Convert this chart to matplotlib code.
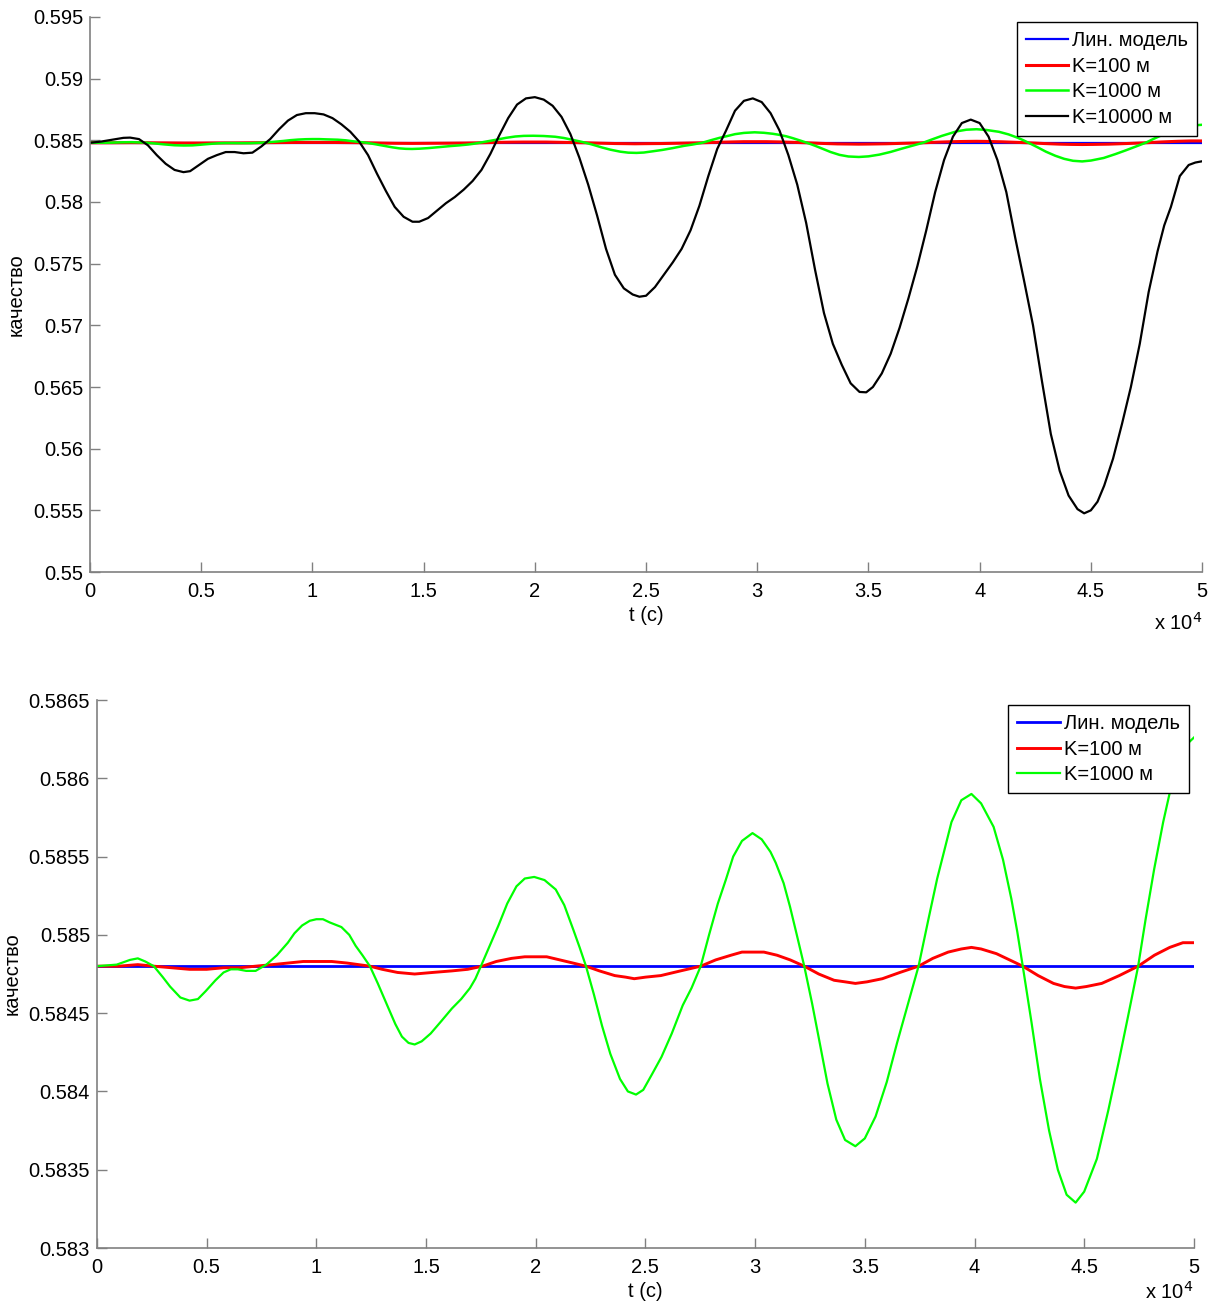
import matplotlib
matplotlib.use("Agg")
import matplotlib.pyplot as plt
import numpy as np
from matplotlib.ticker import FuncFormatter

plt.rcParams['font.family'] = ['Liberation Sans', 'DejaVu Sans']

# линейная модель (константа)
t_lin = [0, 50000]
q_lin = [0.5848, 0.5848]

# K=100 м
t_k100 = [0, 1000, 1860, 2590, 3400, 4220, 5000, 5770, 6500, 7230, 8000, 8700,
          9400, 10000, 10700, 11400, 12440, 13000, 13700, 14480, 15300, 16180,
          16900, 17570, 18200, 18900, 19500, 19930, 20500, 21100, 21700, 22290,
          22900, 23600, 24100, 24490, 25000, 25700, 26600, 27520, 28200, 28900,
          29400, 29880, 30400, 31000, 31600, 32240, 32900, 33600, 34100, 34570,
          35100, 35800, 36600, 37450, 38100, 38800, 39400, 39860, 40300, 41000,
          41600, 42200, 42900, 43600, 44100, 44610, 45100, 45800, 46600, 47460,
          48200, 48900, 49500, 50000]
q_k100 = [0.58480, 0.58480, 0.58481, 0.58480, 0.58479, 0.58478, 0.58478, 0.58479,
          0.58479, 0.58480, 0.58481, 0.58482, 0.58483, 0.58483, 0.58483, 0.58482,
          0.58480, 0.58478, 0.58476, 0.58475, 0.58476, 0.58477, 0.58478, 0.58480,
          0.58483, 0.58485, 0.58486, 0.58486, 0.58486, 0.58484, 0.58482, 0.58480,
          0.58477, 0.58474, 0.58473, 0.58472, 0.58473, 0.58474, 0.58477, 0.58480,
          0.58484, 0.58487, 0.58489, 0.58489, 0.58489, 0.58487, 0.58484, 0.58480,
          0.58475, 0.58471, 0.58470, 0.58469, 0.58470, 0.58472, 0.58476, 0.58480,
          0.58485, 0.58489, 0.58491, 0.58492, 0.58491, 0.58488, 0.58484, 0.58480,
          0.58474, 0.58469, 0.58467, 0.58466, 0.58467, 0.58469, 0.58474, 0.58480,
          0.58487, 0.58492, 0.58495, 0.58495]

# K=1000 м
t_k1000 = [0, 900, 1500, 1860, 2200, 2590, 3000, 3330, 3800, 4220, 4600, 4950,
           5400, 5770, 6100, 6420, 6800, 7230, 7720, 8200, 8700, 9000, 9350, 9700,
           10000, 10300, 10600, 11140, 11500, 11790, 12100, 12440, 12800, 13260,
           13600, 13900, 14200, 14480, 14800, 15210, 15700, 16180, 16600, 17000,
           17250, 17500, 17900, 18300, 18700, 19120, 19500, 19930, 20400, 20910,
           21300, 21720, 22000, 22290, 22650, 23020, 23400, 23840, 24200, 24570,
           24900, 25300, 25730, 26200, 26700, 27100, 27520, 27900, 28300, 28660,
           29000, 29400, 29880, 30300, 30700, 30940, 31300, 31590, 31900, 32240,
           32600, 32890, 33300, 33700, 34100, 34570, 35000, 35490, 36000, 36470,
           36950, 37450, 37900, 38300, 38590, 38950, 39400, 39860, 40300, 40870,
           41300, 41680, 41950, 42200, 42600, 42980, 43400, 43800, 44200, 44610,
           45000, 45580, 46100, 46560, 47000, 47460, 47800, 48190, 48600, 49000,
           49400, 49700, 50000]
q_k1000 = [0.58480, 0.58481, 0.58484, 0.58485, 0.58483, 0.58480, 0.58473, 0.58467,
           0.58460, 0.58458, 0.58459, 0.58464, 0.58471, 0.58476, 0.58478, 0.58478,
           0.58477, 0.58477, 0.58481, 0.58487, 0.58495, 0.58501, 0.58506, 0.58509,
           0.58510, 0.58510, 0.58508, 0.58505, 0.58500, 0.58493, 0.58487, 0.58480,
           0.58469, 0.58454, 0.58443, 0.58435, 0.58431, 0.58430, 0.58432, 0.58437,
           0.58445, 0.58453, 0.58459, 0.58466, 0.58472, 0.58480, 0.58493, 0.58506,
           0.58520, 0.58531, 0.58536, 0.58537, 0.58535, 0.58529, 0.58519, 0.58503,
           0.58492, 0.58480, 0.58462, 0.58442, 0.58424, 0.58408, 0.58400, 0.58398,
           0.58401, 0.58411, 0.58422, 0.58437, 0.58455, 0.58466, 0.58480, 0.58500,
           0.58520, 0.58535, 0.58550, 0.58560, 0.58565, 0.58561, 0.58553, 0.58546,
           0.58533, 0.58518, 0.58500, 0.58480, 0.58456, 0.58435, 0.58405, 0.58382,
           0.58369, 0.58365, 0.58370, 0.58384, 0.58406, 0.58431, 0.58455, 0.58480,
           0.58510, 0.58536, 0.58552, 0.58572, 0.58586, 0.58590, 0.58584, 0.58569,
           0.58548, 0.58523, 0.58502, 0.58480, 0.58444, 0.58408, 0.58375, 0.58350,
           0.58334, 0.58329, 0.58336, 0.58357, 0.58388, 0.58418, 0.58448, 0.58480,
           0.58510, 0.58542, 0.58572, 0.58597, 0.58614, 0.58622, 0.58626]

# K=10000 м
t_k10000 = [0, 500, 1000, 1500, 1800, 2200, 2600, 3000, 3400, 3800, 4200, 4500,
            4900, 5300, 5700, 6100, 6500, 6900, 7300, 7700, 8100, 8500, 8900, 9300,
            9700, 10100, 10500, 10900, 11300, 11700, 12100, 12500, 12900, 13300,
            13700, 14100, 14500, 14800, 15200, 15600, 16000, 16400, 16800, 17200,
            17600, 18000, 18400, 18800, 19200, 19600, 20000, 20400, 20800, 21200,
            21600, 22000, 22400, 22800, 23200, 23600, 24000, 24400, 24700, 25000,
            25400, 25800, 26200, 26600, 27000, 27400, 27800, 28200, 28600, 29000,
            29400, 29800, 30200, 30600, 31000, 31400, 31800, 32200, 32600, 33000,
            33400, 33800, 34200, 34600, 34900, 35200, 35600, 36000, 36400, 36800,
            37200, 37600, 38000, 38400, 38800, 39200, 39600, 40000, 40400, 40800,
            41200, 41600, 42000, 42400, 42800, 43200, 43600, 44000, 44400, 44700,
            45000, 45300, 45600, 46000, 46400, 46800, 47200, 47600, 48000, 48300,
            48600, 49000, 49400, 49700, 50000]
q_k10000 = [0.5848, 0.5849, 0.58505, 0.5852, 0.58522, 0.5851, 0.5846, 0.5838,
            0.5831, 0.5826, 0.58242, 0.5825, 0.5830, 0.5835, 0.5838, 0.58405,
            0.58405, 0.58395, 0.5840, 0.5845, 0.5851, 0.5859, 0.5866, 0.58705,
            0.5872, 0.5872, 0.5871, 0.5868, 0.5863, 0.5857, 0.5849, 0.5838,
            0.5823, 0.5809, 0.5796, 0.5788, 0.5784, 0.5784, 0.5787, 0.5793,
            0.5799, 0.5804, 0.5810, 0.5817, 0.5826, 0.5839, 0.5854, 0.5868,
            0.5879, 0.5884, 0.5885, 0.5883, 0.5878, 0.5869, 0.5855, 0.5836,
            0.5814, 0.5789, 0.5762, 0.5741, 0.5730, 0.5725, 0.57232, 0.5724,
            0.5731, 0.5741, 0.5751, 0.5762, 0.5777, 0.5797, 0.5821, 0.5843,
            0.5858, 0.5874, 0.5882, 0.5884, 0.5881, 0.5872, 0.5858, 0.5838,
            0.5814, 0.5783, 0.5745, 0.5710, 0.5685, 0.5668, 0.5653, 0.5646,
            0.56457, 0.5650, 0.5661, 0.5677, 0.5698, 0.5722, 0.5748, 0.5777,
            0.5808, 0.5834, 0.5853, 0.5864, 0.58668, 0.5864, 0.5853, 0.5834,
            0.5808, 0.5771, 0.5736, 0.5700, 0.5655, 0.5612, 0.5582, 0.5562,
            0.5551, 0.55476, 0.5550, 0.5557, 0.5570, 0.5592, 0.5620, 0.5650,
            0.5685, 0.5727, 0.5760, 0.5781, 0.5796, 0.5821, 0.5830, 0.5832,
            0.5833]

labels = ['Лин. модель', 'K=100 м', 'K=1000 м', 'K=10000 м']
x_ticks = np.arange(0, 50001, 5000)
top_yticks = [0.55, 0.555, 0.56, 0.565, 0.57, 0.575, 0.58, 0.585, 0.59, 0.595]
bot_yticks = [0.583, 0.5835, 0.584, 0.5845, 0.585, 0.5855, 0.586, 0.5865]

FS = 14.5
GRAY = '#808080'


def style_axes(ax, yticks, mult_y):
    ax.set_xlim(0, 50000)
    ax.set_ylim(yticks[0], yticks[-1])
    ax.set_xticks(x_ticks)
    ax.set_yticks(yticks)
    ax.xaxis.set_major_formatter(FuncFormatter(lambda v, p: '%g' % (v / 1e4)))
    ax.yaxis.set_major_formatter(FuncFormatter(lambda v, p: '%g' % round(v, 5)))
    for s in ['top', 'right']:
        ax.spines[s].set_visible(False)
    for s in ['left', 'bottom']:
        ax.spines[s].set_color(GRAY)
        ax.spines[s].set_linewidth(1.2)
    ax.tick_params(direction='in', length=7, width=1.0, color=GRAY,
                   labelsize=FS)
    ax.tick_params(axis='x', pad=7)
    ax.tick_params(axis='y', pad=5)
    ax.set_xlabel('t (c)', fontsize=FS, labelpad=4)
    ax.set_ylabel('качество', fontsize=FS, labelpad=5)
    # множитель оси x, как в MATLAB
    ax.text(1.0, mult_y, r'x 10$^{4}$', transform=ax.transAxes, ha='right',
            va='center', fontsize=FS)


fig = plt.figure(figsize=(12.17, 13.06), dpi=100)
ax1 = fig.add_axes([0.074, 0.562, 0.9137, 0.425])
ax2 = fig.add_axes([0.0797, 0.0444, 0.9013, 0.4196])

lw = 1.6
ax1.plot(t_lin, q_lin, color='#0000ff', lw=lw, label=labels[0])
ax1.plot(t_k100, q_k100, color='#ff0000', lw=lw + 0.6, label=labels[1])
ax1.plot(t_k1000, q_k1000, color='#00ff00', lw=lw + 0.2, label=labels[2])
ax1.plot(t_k10000, q_k10000, color='#000000', lw=lw, label=labels[3])
style_axes(ax1, top_yticks, -0.092)

ax2.plot(t_lin, q_lin, color='#0000ff', lw=lw + 0.4, label=labels[0])
ax2.plot(t_k100, q_k100, color='#ff0000', lw=lw + 0.5, label=labels[1])
ax2.plot(t_k1000, q_k1000, color='#00ff00', lw=lw, label=labels[2])
style_axes(ax2, bot_yticks, -0.08)

for ax in (ax1, ax2):
    leg = ax.legend(loc='upper right', fontsize=FS, fancybox=False, framealpha=1,
                    edgecolor='black', borderaxespad=0.25, handlelength=2.1,
                    handletextpad=0.2, labelspacing=0.33, borderpad=0.45)
    leg.get_frame().set_linewidth(1.0)

fig.savefig('out.png', dpi=100)
